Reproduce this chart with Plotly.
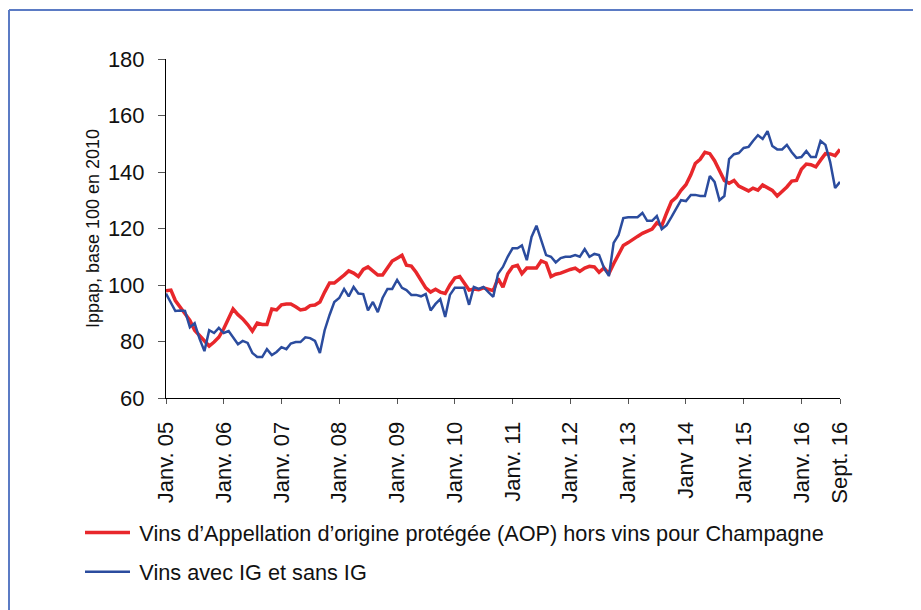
import pandas as pd
import plotly.graph_objects as go

# monthly index values, Jan 2005 -> Sept 2016
months = pd.date_range("2005-01-01", "2016-09-01", freq="MS")

aop = [98, 98.2, 94.5, 92, 89.5, 87.5, 84, 82, 80, 78.4, 79.8, 81.5,
       84.5, 88.5, 91.5, 89.5, 88, 86, 83.7, 86.5, 86, 86, 91.5, 91.2,
       93, 93.3, 93.3, 92.3, 91.2, 91.5, 92.7, 92.9, 94, 97.5, 100.7, 100.7,
       102, 103.5, 105, 104.2, 103, 105.5, 106.4, 104.8, 103.5, 103.5, 106, 108.5,
       109.5, 110.5, 107, 106.7, 104.5, 101.5, 99, 97.5, 98.5, 97.5, 97, 100,
       102.5, 103, 100.7, 98.2, 98.6, 98.3, 99, 98.5, 98, 102.3, 99.2, 104,
       106.5, 107, 104, 106, 106, 106, 108.5, 107.8, 103, 103.8, 104.2, 105,
       105.5, 106, 104.8, 106, 106.6, 106.4, 104.5, 106, 104, 107.5, 110.5, 114,
       115, 116, 117.2, 118.3, 119.2, 119.8, 122, 121, 125.5, 129.5, 131, 133.5,
       135.5, 139, 143, 144.5, 147, 146.5, 144, 140.7, 137, 136, 137, 135,
       134, 133.3, 134.3, 133.6, 135.4, 134.5, 133.5, 131.5, 133, 134.7, 136.8, 137,
       141, 142.8, 142.6, 141.8, 144.2, 146.5, 146.4, 145.8, 148]

ig = [97, 94, 90.8, 91, 90.8, 85, 86.5, 81, 76.6, 84, 83, 84.8,
      83, 83.7, 81.5, 79, 80.2, 79.5, 75.9, 74.5, 74.5, 77.3, 75.2, 76.3,
      78, 77.3, 79.3, 79.8, 79.8, 81.5, 81.2, 80.2, 75.9, 84, 89.4, 94,
      95.4, 98.6, 96, 99.3, 97, 96.8, 91, 94, 90.4, 95.4, 98.6, 98.6,
      101.8, 99, 98.2, 96.5, 96.5, 96, 96.8, 91, 93.3, 95, 88.7, 96.5,
      99, 99, 99, 93, 99.3, 98.6, 99.3, 97.5, 95.8, 104, 106.4, 110,
      113, 113, 114, 108.8, 117, 121, 116, 110.6, 110, 108, 109.5, 110,
      110, 110.6, 110, 112.7, 110, 111, 110.6, 106, 103.2, 114.9, 117.7, 123.7,
      124, 124, 124, 125.5, 122.7, 122.7, 124.4, 119.8, 121.2, 124, 127.2, 130,
      129.7, 131.9, 131.9, 131.5, 131.5, 138.6, 136.5, 130, 131.5, 144.6, 146.3, 146.7,
      148.5, 148.9, 151, 153, 151.7, 154.5, 149.2, 148, 148, 149.6, 147, 145,
      145.3, 147.4, 145.3, 145.3, 151, 149.6, 143.5, 134.3, 136.5]

tick_dates = ["2005-01-01", "2006-01-01", "2007-01-01", "2008-01-01", "2009-01-01",
              "2010-01-01", "2011-01-01", "2012-01-01", "2013-01-01", "2014-01-01",
              "2015-01-01", "2016-01-01", "2016-09-01"]
tick_labels = ["Janv. 05", "Janv. 06", "Janv. 07", "Janv. 08", "Janv. 09", "Janv. 10",
               "Janv. 11", "Janv. 12", "Janv. 13", "Janv 14", "Janv. 15", "Janv. 16",
               "Sept. 16"]

W, H = 921, 610
OFF = 8  # page body margin
L, T = 158, 51
pw, ph = 674, 339
R, B = W - L - pw, H - T - ph


def px_x(px):
    return (px - OFF - L) / pw


def px_y(py):
    return (T + ph + OFF - py) / ph


font = "Liberation Sans, Arial, sans-serif"

fig = go.Figure()
fig.add_trace(go.Scatter(x=months, y=aop, mode='lines', legendgroup='a',
                         name="\u2009Vins d’Appellation d’origine protégée (AOP) hors vins pour Champagne",
                         line=dict(color='#e8272b', width=3.5)))
fig.add_trace(go.Scatter(x=months, y=ig, mode='lines', legendgroup='b',
                         name="\u2009Vins avec IG et sans IG",
                         line=dict(color='#2b4c9e', width=2.5)))

# frame around the chart (left and top edges visible)
frame = dict(color='#5b7bc4', width=2)
fig.add_shape(type='line', xref='paper', yref='paper', x0=px_x(9), x1=px_x(9),
              y0=px_y(10), y1=px_y(640), line=frame)
fig.add_shape(type='line', xref='paper', yref='paper', x0=px_x(9), x1=px_x(950),
              y0=px_y(10), y1=px_y(10), line=frame)

fig.update_layout(
    width=W, height=H,
    margin=dict(l=L, r=R, t=T, b=B),
    paper_bgcolor='white', plot_bgcolor='white',
    font=dict(family=font, size=22, color='#111'),
    showlegend=True,
    legend=dict(x=px_x(80), y=px_y(512), xanchor='left', yanchor='top', itemwidth=45,
                tracegroupgap=8, font=dict(size=21.7), bgcolor='rgba(0,0,0,0)'),
)
fig.update_xaxes(range=["2005-01-01", "2016-09-01"], tickvals=tick_dates, ticktext=tick_labels,
                 tickangle=-90, showline=True, linecolor='black', linewidth=1,
                 ticks='outside', ticklen=5, tickcolor='#555', ticklabelstandoff=9,
                 showgrid=False, zeroline=False)
fig.update_yaxes(range=[60, 180], dtick=20, showline=True, linecolor='black', linewidth=1,
                 ticks='outside', ticklen=7, tickcolor='#555', ticklabelstandoff=9,
                 showgrid=False, zeroline=False,
                 title=dict(text="Ippap, base 100 en 2010", font=dict(size=18), standoff=3))

fig.write_html("out.html")
